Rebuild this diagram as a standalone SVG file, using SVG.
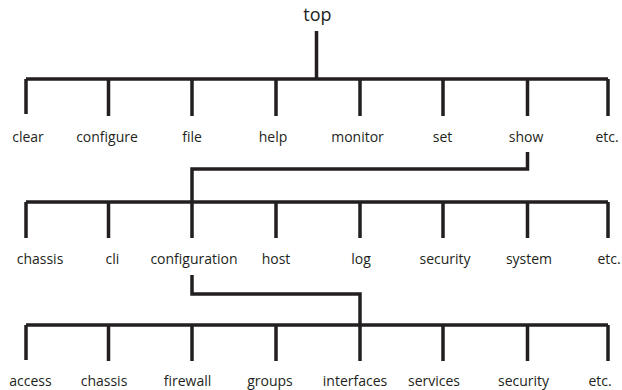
<svg xmlns="http://www.w3.org/2000/svg" width="622" height="390" viewBox="0 0 622 390">
<style>
.c{fill:none;stroke:#231f20;stroke-width:3.5;stroke-linecap:butt;stroke-linejoin:miter}
text{font-family:"Open Sans","Noto Sans","Liberation Sans",sans-serif;font-size:14px;fill:#231f20;text-anchor:middle}
.t{font-size:18px}
</style>
<rect width="622" height="390" fill="#ffffff"/>
<g id="connectors">
<path class="c" d="M316.5 31V79M26 79H608M26 79V114M108.5 79V116M192 79V116M276 79V116M360 79V116M443 79V116M527.5 79V116M608 79V116"/>
<path class="c" d="M527.5 152V169H192V202M26 202H608M26 202V238M108.5 202V238M192 202V238M276 202V238M360 202V238M443 202V238M527.5 202V238M608 202V238"/>
<path class="c" d="M192 275V294H360V325M26 325H608M26 325V360M108.5 325V361M192 325V361M276 325V361M360 325V361M443 325V361M527.5 325V361M608 325V361"/>
</g>
<g id="n-top"><text class="t" x="317.5" y="21">top</text></g>
<g id="n-clear"><text x="28" y="142">clear</text></g>
<g id="n-configure"><text x="107" y="142">configure</text></g>
<g id="n-file"><text x="192" y="142">file</text></g>
<g id="n-help"><text x="273" y="142">help</text></g>
<g id="n-monitor"><text x="357.5" y="142">monitor</text></g>
<g id="n-set"><text x="442.5" y="142">set</text></g>
<g id="n-show"><text x="526" y="142">show</text></g>
<g id="n-etc1"><text x="607" y="142">etc.</text></g>
<g id="n-chassis1"><text x="40" y="264">chassis</text></g>
<g id="n-cli"><text x="112.5" y="264">cli</text></g>
<g id="n-configuration"><text x="194" y="264">configuration</text></g>
<g id="n-host"><text x="276" y="264">host</text></g>
<g id="n-log"><text x="361" y="264">log</text></g>
<g id="n-security1"><text x="445" y="264">security</text></g>
<g id="n-system"><text x="529" y="264">system</text></g>
<g id="n-etc2"><text x="609" y="264">etc.</text></g>
<g id="n-access"><text x="30.5" y="386">access</text></g>
<g id="n-chassis2"><text x="104" y="386">chassis</text></g>
<g id="n-firewall"><text x="187.5" y="386">firewall</text></g>
<g id="n-groups"><text x="270" y="386">groups</text></g>
<g id="n-interfaces"><text x="355" y="386">interfaces</text></g>
<g id="n-services"><text x="434" y="386">services</text></g>
<g id="n-security2"><text x="523.5" y="386">security</text></g>
<g id="n-etc3"><text x="600" y="386">etc.</text></g>
</svg>
